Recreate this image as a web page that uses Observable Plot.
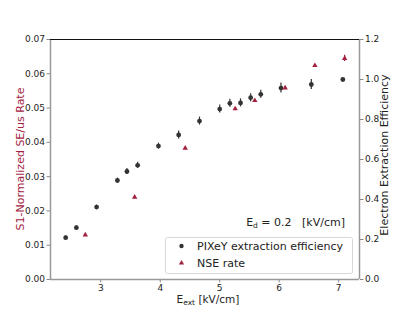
<!DOCTYPE html>
<html><head><meta charset="utf-8">
<script src="https://cdn.jsdelivr.net/npm/d3@7"></script>
<script src="https://cdn.jsdelivr.net/npm/@observablehq/plot@0.6"></script>
<style>body{margin:0;background:#fff}</style>
</head><body><div id="chart"></div>
<script>
// PIXeY extraction efficiency (right axis)
const pixeyE = [2.41,2.59,2.93,3.28,3.44,3.62,3.97,4.31,4.66,5.0,5.17,5.35,5.52,5.69,6.03,6.54,7.07];
const pixeyEff = [0.209,0.259,0.362,0.495,0.540,0.571,0.667,0.723,0.792,0.852,0.881,0.883,0.909,0.926,0.957,0.975,1.0];
const pixeyErr = [0.008,0.01,0.01,0.012,0.015,0.015,0.015,0.02,0.02,0.02,0.02,0.02,0.02,0.02,0.025,0.025,0.005];
// NSE rate (left axis)
const nseE = [2.74,3.57,4.42,5.26,5.59,6.10,6.60,7.10];
const nseRate = [0.0130,0.0240,0.0383,0.0498,0.0522,0.0559,0.0624,0.0645];
const nseErr = [0.0002,0.0002,0.0002,0.0002,0.0002,0.0002,0.0003,0.0009];
const xTicks = [3,4,5,6,7];
const leftTicks = [0,0.01,0.02,0.03,0.04,0.05,0.06,0.07];
const rightTicks = [0,0.2,0.4,0.6,0.8,1.0,1.2];

const k = 0.07/1.2; // efficiency -> left-axis units
const pix = pixeyE.map((e,i)=>({e, y:pixeyEff[i]*k, lo:(pixeyEff[i]-pixeyErr[i])*k, hi:(pixeyEff[i]+pixeyErr[i])*k}));
const nse = nseE.map((e,i)=>({e, y:nseRate[i], lo:nseRate[i]-nseErr[i], hi:nseRate[i]+nseErr[i]}));
const crimson = "#a3213f", dark = "#333333";

const plot = Plot.plot({
  width:399, height:319, marginLeft:50, marginRight:40, marginTop:39, marginBottom:40,
  style:{fontFamily:"DejaVu Sans", fontSize:"9px", background:"white", color:"#222"},
  x:{domain:[2.155,7.35]},
  y:{domain:[0,0.07]},
  marks:[
    Plot.axisX({ticks:xTicks, tickSize:3.5, tickPadding:1.5, label:null, stroke:"#888", fill:"#222", tickFormat:d=>String(d)}),
    Plot.axisY({anchor:"left", ticks:leftTicks, tickSize:3.5, tickPadding:2, label:null, stroke:"#888", fill:"#222", tickFormat:d=>d.toFixed(2)}),
    Plot.axisY({anchor:"right", ticks:rightTicks.map(v=>v*k), tickSize:3.5, tickPadding:2, label:null, stroke:"#888", fill:"#222", tickFormat:d=>(d/k).toFixed(1)}),
    Plot.ruleY([0], {stroke:"#999", strokeWidth:1.5}),
    Plot.ruleX([2.155], {stroke:"#999", strokeWidth:1.5}),
    Plot.ruleX([7.35], {stroke:"#999", strokeWidth:1.5}),
    Plot.ruleY([0.07], {stroke:"#111", strokeWidth:1}),
    Plot.ruleX(pix, {x:"e", y1:"lo", y2:"hi", stroke:dark, strokeWidth:1.2}),
    Plot.dot(pix, {x:"e", y:"y", r:2.4, fill:dark, stroke:"none"}),
    Plot.ruleX(nse, {x:"e", y1:"lo", y2:"hi", stroke:crimson, strokeWidth:1.2}),
    Plot.dot(nse, {x:"e", y:"y", r:2.0, symbol:"triangle", fill:crimson, stroke:"none"})
  ]
});
document.getElementById("chart").appendChild(plot);

const svg = d3.select(plot);
const F = "DejaVu Sans";
// axis labels
svg.append("text").attr("transform","translate(24,159) rotate(-90)").attr("text-anchor","middle")
  .attr("font-family",F).attr("font-size",11).attr("fill",crimson).text("S1-Normalized SE/us Rate");
svg.append("text").attr("transform","translate(388,155) rotate(-90)").attr("text-anchor","middle")
  .attr("font-family",F).attr("font-size",11).attr("fill","#222").text("Electron Extraction Efficiency");
const xl = svg.append("text").attr("x",208).attr("y",303).attr("text-anchor","middle")
  .attr("font-family",F).attr("font-size",10.5).attr("fill","#222");
xl.append("tspan").text("E");
xl.append("tspan").attr("font-size",7.5).attr("dy",2).text("ext");
xl.append("tspan").attr("dy",-2).text(" [kV/cm]");
// annotation
const an = svg.append("text").attr("x",345).attr("y",226).attr("text-anchor","end")
  .attr("font-family",F).attr("font-size",11).attr("fill","#222");
an.append("tspan").text("E");
an.append("tspan").attr("font-size",7.5).attr("dy",2).text("d");
an.append("tspan").attr("dy",-2).text(" = 0.2   [kV/cm]");
// legend
const lg = svg.append("g").attr("text-anchor","start");
lg.append("rect").attr("x",165.5).attr("y",237.5).attr("width",187).attr("height",36).attr("rx",2)
  .attr("fill","white").attr("fill-opacity",0.8).attr("stroke","#d8d8d8");
lg.append("path").attr("d",d3.symbol(d3.symbolCircle, Math.PI*2.2*2.2)()).attr("transform","translate(181.5,246)").attr("fill",dark);
lg.append("path").attr("d",d3.symbol(d3.symbolTriangle, 12)()).attr("transform","translate(181.5,263)").attr("fill",crimson);
lg.append("text").attr("x",197).attr("y",249.5).attr("text-anchor","start").attr("font-family",F).attr("font-size",11).attr("fill","#222").text("PIXeY extraction efficiency");
lg.append("text").attr("x",197).attr("y",266.5).attr("text-anchor","start").attr("font-family",F).attr("font-size",11).attr("fill","#222").text("NSE rate");
</script></body></html>
